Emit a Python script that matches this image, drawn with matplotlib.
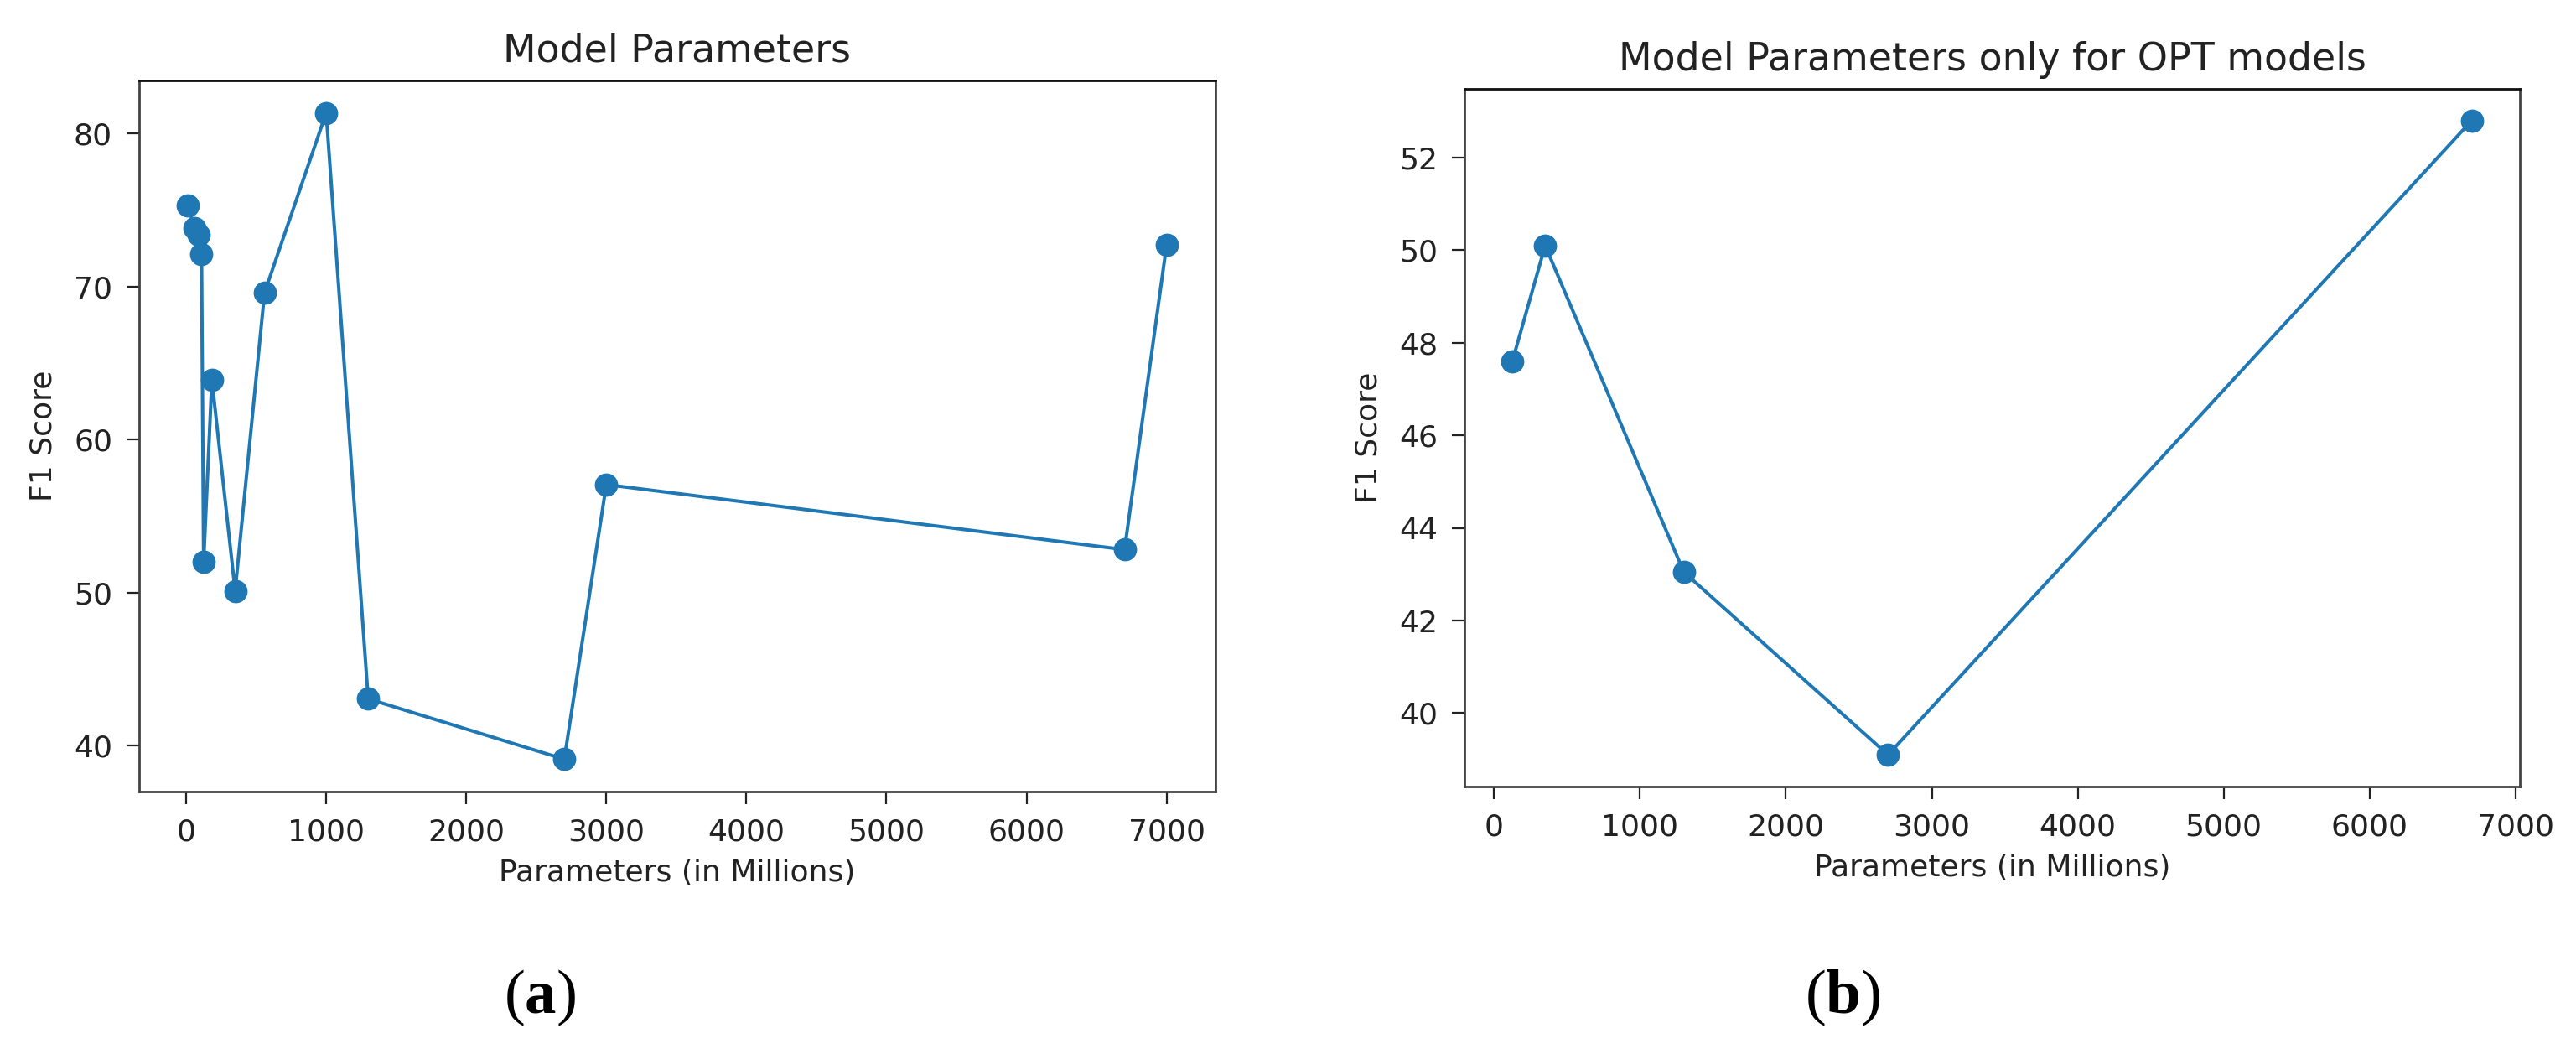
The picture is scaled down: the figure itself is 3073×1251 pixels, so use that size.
import matplotlib
matplotlib.use("Agg")
import matplotlib.pyplot as plt

# ---- data ----
all_params = [14, 60, 90, 110, 125, 184, 350, 560, 1000, 1300, 2700, 3000, 6700, 7000]
all_f1 = [75.3, 73.8, 73.4, 72.1, 52.0, 63.9, 50.1, 69.6, 81.35, 43.05, 39.1, 57.05, 52.8, 72.7]

opt_params = [125, 350, 1300, 2700, 6700]
opt_f1 = [47.6, 50.1, 43.05, 39.1, 52.8]

titles = ["Model Parameters", "Model Parameters only for OPT models"]
xlabel = "Parameters (in Millions)"
ylabel = "F1 Score"
sublabels = [r"$(\mathbf{a})$", r"$(\mathbf{b})$"]

plt.rcParams['font.family'] = ['DejaVu Sans']
plt.rcParams['mathtext.fontset'] = 'custom'
plt.rcParams['mathtext.rm'] = 'Liberation Serif'
plt.rcParams['mathtext.bf'] = 'Liberation Serif:bold'

W, H = 3073, 1251
fig = plt.figure(figsize=(W / 100, H / 100), dpi=100)

def frac(x0, x1, y0, y1):
    return [x0 / W, 1 - y1 / H, (x1 - x0) / W, (y1 - y0) / H]

ax1 = fig.add_axes(frac(166, 1450, 96, 944))
ax2 = fig.add_axes(frac(1747, 3006, 106, 938))

for ax, xs, ys, t in [(ax1, all_params, all_f1, titles[0]),
                      (ax2, opt_params, opt_f1, titles[1])]:
    ax.plot(xs, ys, marker='o', color='#1f77b4', linewidth=2.9, markersize=19)
    ax.set_title(t, fontsize=33, pad=16, color='#222222')
    ax.set_xlabel(xlabel, fontsize=26, labelpad=10, color='#222222')
    ax.set_ylabel(ylabel, fontsize=26, labelpad=14, color='#222222')
    ax.tick_params(labelsize=26, length=11, width=1.6, pad=12, colors='#222222')
    for s in ax.spines.values():
        s.set_linewidth(2.0)
        s.set_color('#444444')
    ax.spines['top'].set_color('#111111')

ax2.set_xticks([0, 1000, 2000, 3000, 4000, 5000, 6000, 7000])
ax2.set_xlim(-203, 7030)

fig.text(644 / W, 1 - 1190 / H, sublabels[0], fontsize=54, ha='center', va='center')
fig.text(2198 / W, 1 - 1190 / H, sublabels[1], fontsize=54, ha='center', va='center')

fig.savefig("out.png", dpi=100, facecolor='white')
